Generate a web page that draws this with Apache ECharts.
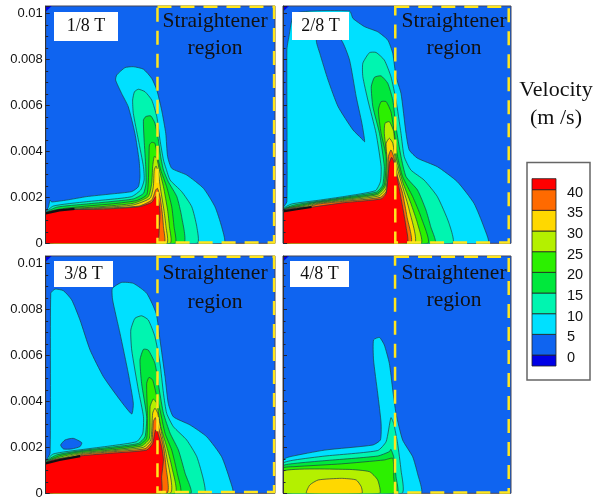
<!DOCTYPE html>
<html>
<head>
<meta charset="utf-8">
<style>html,body{margin:0;padding:0;background:#fff}#chart{width:596px;height:501px}</style>
<script src="https://cdn.jsdelivr.net/npm/echarts@6/dist/echarts.min.js"></script>
</head>
<body>
<div id="chart"></div>
<script>
// Contour outlines: [x, y] in mm; each array is the region above one velocity level.
const p1L5=[[0,1.30],[.12,1.59],[.19,1.88],[.26,1.80],[.91,1.88],[1.78,2.03],[2.80,2.14],[3.74,2.25],[4.03,2.46],[4.10,2.90],[4.06,3.62],[3.88,4.78],[3.59,5.94],[3.30,6.52],[3.04,7.10],[3.09,7.32],[3.45,7.64],[3.81,7.68],[4.25,7.57],[4.61,7.17],[4.83,6.67],[5.04,5.80],[5.22,4.78],[5.30,3.77],[5.48,3.26],[6.13,2.97],[6.86,2.39],[7.36,1.59],[7.65,.72],[7.75,0],[0,0]];
const p1L10=[[0,1.30],[.33,1.62],[1.78,1.81],[2.80,1.91],[3.74,2.03],[4.13,2.32],[4.28,2.75],[4.25,3.33],[4.03,4.49],[3.81,5.65],[3.78,6.23],[3.86,6.59],[4.03,6.70],[4.32,6.59],[4.61,6.23],[4.83,5.51],[4.97,4.49],[5.12,3.62],[5.23,3.26],[5.41,2.75],[5.91,2.25],[6.35,1.59],[6.57,.72],[6.59,0],[0,0]];
const p1L15=[[0,1.30],[.48,1.57],[1.78,1.71],[2.80,1.81],[3.81,1.93],[4.25,2.17],[4.36,2.61],[4.35,3.33],[4.28,4.49],[4.25,5.36],[4.35,5.51],[4.57,5.54],[4.75,5.22],[4.90,4.49],[5.00,3.77],[5.12,3.19],[5.33,2.68],[5.70,2.03],[5.91,1.16],[5.99,0],[0,0]];
const p1L20=[[0,1.28],[.62,1.49],[1.78,1.62],[2.94,1.72],[3.96,1.86],[4.39,2.10],[4.46,2.61],[4.49,3.77],[4.51,4.28],[4.61,4.39],[4.75,4.35],[4.86,3.77],[5.00,3.19],[5.26,2.46],[5.48,1.59],[5.58,.72],[5.62,0],[0,0]];
const p1L25=[[0,1.28],[1.0,1.50],[2.36,1.59],[3.81,1.74],[4.46,2.03],[4.61,2.61],[4.65,3.33],[4.72,3.77],[4.83,3.70],[4.94,3.19],[5.12,2.46],[5.30,1.45],[5.38,.72],[5.41,0],[0,0]];
const p1L30=[[0,1.28],[1.0,1.47],[2.36,1.55],[3.81,1.67],[4.54,1.96],[4.68,2.46],[4.72,3.19],[4.80,3.36],[4.90,3.04],[5.00,2.32],[5.14,1.45],[5.23,.72],[5.26,0],[0,0]];
const p1L35=[[0,1.28],[1.0,1.45],[2.36,1.52],[4.06,1.62],[4.61,1.88],[4.78,2.32],[4.86,2.39],[4.97,2.03],[5.07,1.30],[5.12,.72],[5.14,0],[0,0]];
const p1L40=[[0,1.30],[.48,1.45],[2.36,1.48],[4.06,1.59],[4.61,1.78],[4.78,2.03],[4.90,1.88],[4.97,1.30],[4.94,.72],[4.83,0],[0,0]];

const p2L5=[[0,1.52],[.17,1.81],[.17,8.41],[.26,8.99],[.52,10.0],[2.91,10.1],[3.06,9.78],[3.57,9.42],[4.14,9.20],[4.58,8.84],[4.80,8.26],[4.94,7.25],[5.16,6.52],[5.38,4.78],[5.52,4.06],[5.88,3.70],[6.75,3.33],[7.62,2.68],[8.35,1.74],[8.78,.72],[8.96,0],[0,0]];
const p2Hole=[[1.46,8.84],[1.9,9.2],[2.55,8.84],[2.91,7.97],[3.20,6.38],[3.45,5.22],[3.57,4.42],[3.42,4.57],[3.06,4.93],[2.41,5.94],[1.97,7.10],[1.61,8.26]];
const p2L10=[[0,1.48],[.38,1.71],[1.54,1.87],[2.70,2.04],[4.04,2.29],[4.26,2.68],[4.29,3.33],[4.07,4.78],[3.71,6.23],[3.49,7.25],[3.49,7.83],[3.78,8.29],[4.07,8.30],[4.43,7.97],[4.72,7.25],[4.94,6.23],[5.16,4.78],[5.30,3.77],[5.59,3.19],[6.17,2.75],[6.75,2.03],[7.26,.87],[7.41,0],[0,0]];
const p2L15=[[0,1.45],[.52,1.67],[1.54,1.83],[2.70,2.00],[4.09,2.23],[4.36,2.54],[4.43,3.33],[4.22,4.78],[3.93,5.94],[3.86,6.81],[4.00,7.22],[4.29,7.28],[4.58,6.96],[4.80,6.23],[4.94,5.07],[5.16,3.77],[5.38,2.90],[5.88,2.32],[6.25,1.45],[6.46,.72],[6.64,0],[0,0]];
const p2L20=[[0,1.45],[.67,1.64],[1.54,1.80],[2.70,1.96],[4.12,2.17],[4.43,2.54],[4.51,3.77],[4.29,4.78],[4.17,5.80],[4.29,6.16],[4.51,6.16],[4.72,5.72],[4.87,4.78],[5.01,3.77],[5.23,2.90],[5.67,2.03],[6.03,1.16],[6.32,0],[0,0]];
const p2L25=[[0,1.43],[.81,1.62],[1.54,1.77],[2.70,1.91],[4.14,2.12],[4.46,2.46],[4.58,3.33],[4.43,4.78],[4.46,5.22],[4.65,5.29],[4.84,4.86],[4.94,3.77],[5.23,2.68],[5.59,1.74],[5.88,.87],[6.03,0],[0,0]];
const p2L30=[[0,1.42],[.96,1.61],[1.54,1.74],[2.70,1.87],[4.19,2.06],[4.51,2.39],[4.55,3.62],[4.51,4.35],[4.65,4.57],[4.80,4.35],[4.94,3.48],[5.23,2.46],[5.52,1.45],[5.74,0],[0,0]];
const p2L35=[[0,1.41],[1.10,1.59],[1.54,1.71],[2.70,1.83],[4.26,2.00],[4.55,2.32],[4.61,3.77],[4.72,4.06],[4.84,3.77],[5.01,2.90],[5.23,2.17],[5.42,1.16],[5.57,0],[0,0]];
const p2L40=[[0,1.39],[1.25,1.57],[2.70,1.77],[4.29,1.93],[4.51,2.17],[4.65,3.48],[4.75,3.74],[4.87,3.48],[5.04,2.61],[5.23,1.59],[5.38,.72],[5.42,0],[0,0]];

const p3L5=[[0,1.38],[.19,1.74],[.22,8.70],[.41,8.88],[.77,8.81],[1.13,8.41],[1.49,7.54],[1.93,6.23],[2.51,5.07],[3.23,4.06],[3.74,3.45],[3.81,3.91],[3.59,5.22],[3.23,6.96],[2.91,8.41],[2.90,8.91],[3.30,9.17],[3.81,9.13],[4.39,8.70],[4.80,7.83],[4.97,6.67],[5.19,5.07],[5.33,3.91],[5.55,3.33],[6.28,2.97],[7.00,2.46],[7.65,1.59],[8.01,.58],[8.12,0],[0,0]];
const p3Hole=[[.65,2.10],[.84,2.32],[1.20,2.39],[1.57,2.20],[1.49,2.03],[1.13,1.93],[.77,1.93]];
const p3L10=[[0,1.36],[.33,1.71],[1.64,1.91],[2.80,2.06],[3.96,2.25],[4.22,2.61],[4.25,3.33],[4.03,4.49],[3.74,6.23],[3.70,7.10],[3.88,7.61],[4.17,7.72],[4.46,7.54],[4.75,6.81],[4.97,5.65],[5.12,4.35],[5.26,3.48],[5.55,2.90],[6.13,2.32],[6.57,1.59],[6.86,.58],[6.90,0],[0,0]];
const p3L15=[[0,1.35],[.48,1.67],[1.64,1.87],[2.80,2.00],[4.03,2.17],[4.32,2.46],[4.39,3.33],[4.17,4.78],[4.10,5.80],[4.25,6.26],[4.46,6.23],[4.75,5.65],[4.94,4.49],[5.12,3.48],[5.41,2.61],[5.77,1.88],[6.06,.87],[6.30,0],[0,0]];
const p3L20=[[0,1.33],[.62,1.64],[1.64,1.83],[2.80,1.94],[4.10,2.12],[4.39,2.39],[4.42,3.48],[4.39,4.78],[4.49,5.04],[4.65,4.93],[4.83,4.20],[4.97,3.62],[5.19,2.61],[5.48,1.88],[5.72,.87],[5.84,0],[0,0]];
const p3L25=[[0,1.32],[.77,1.61],[1.64,1.78],[2.80,1.88],[4.17,2.06],[4.51,2.39],[4.54,3.77],[4.68,4.10],[4.83,3.91],[5.00,2.90],[5.26,2.03],[5.48,1.16],[5.62,0],[0,0]];
const p3L30=[[0,1.30],[.91,1.58],[1.64,1.74],[2.80,1.84],[4.25,2.00],[4.57,2.32],[4.65,3.48],[4.75,3.70],[4.87,3.48],[5.04,2.61],[5.26,1.59],[5.41,0],[0,0]];
const p3L35=[[0,1.30],[1.06,1.55],[1.64,1.70],[2.80,1.80],[4.32,1.94],[4.61,2.25],[4.68,3.12],[4.77,3.29],[4.90,2.90],[5.12,2.03],[5.23,1.16],[5.26,0],[0,0]];
const p3L40=[[0,1.30],[.48,1.48],[1.64,1.64],[2.80,1.74],[4.39,1.88],[4.65,2.17],[4.77,2.75],[4.86,2.68],[5.04,2.03],[5.12,1.45],[5.04,.72],[5.00,0],[0,0]];

const p4L5=[[0,1.45],[.30,1.59],[1.83,1.88],[3.93,2.10],[4.26,2.32],[4.29,3.04],[4.14,4.35],[3.96,5.80],[3.96,6.67],[4.22,6.78],[4.43,6.45],[4.65,5.65],[4.80,4.49],[4.94,3.48],[5.23,2.32],[5.67,1.59],[5.88,.87],[6.03,0],[0,0]];
const p4L10=[[0,1.30],[.52,1.45],[1.83,1.62],[4.14,1.86],[4.51,2.25],[4.72,3.29],[4.84,3.04],[5.01,2.17],[5.16,1.01],[5.20,0],[0,0]];
const p4L15=[[0,1.19],[.52,1.30],[1.83,1.42],[4.14,1.62],[4.65,1.81],[4.72,1.91],[4.84,1.59],[4.94,.72],[4.99,0],[0,0]];
const p4L20=[[0,1.09],[.52,1.16],[2.55,1.28],[4.43,1.45],[4.80,1.52],[4.84,.72],[4.83,0],[0,0]];
const p4L25=[[0,.97],[2.84,1.04],[3.78,.94],[4.14,.58],[4.22,0],[0,0]];
const p4L30=[[1.03,0],[1.17,.36],[1.54,.58],[2.55,.65],[3.20,.58],[3.42,.29],[3.45,0]];

const cornerLow=[[0,10.32],[.26,10.32],[0,10.07]];
const p1Dense=[[0,1.30],[.6,1.43],[1.25,1.50]];
const p2Dense=[[0,1.39],[.6,1.48],[1.25,1.58]];
const p3Dense=[[0,1.30],[.6,1.45],[1.50,1.62]];

const regionBoxes=[[4.86,.03,9.93,10.29],[4.91,.03,9.87,10.29],[4.86,.06,9.93,10.29],[4.90,.03,9.87,10.29]];

const levelValues=[0,5,10,15,20,25,30,35,40];
const levelColors=['#0000e6','#00e0ff','#00f5b0','#00e83c','#2cf000','#b4f000','#ffd800','#ff6a00','#ff0000'];
const backgroundColor='#0f64f0';
const colorbarEdges=[-2.66,0,5,10,15,20,25,30,35,40,42.66];
const colorbarColors=['#0000e6','#0f64f0','#00e0ff','#00f5b0','#00e83c','#2cf000','#b4f000','#ffd800','#ff6a00','#ff0000'];
const yTickLabels=['0','0.002','0.004','0.006','0.008','0.01'];
const timeLabels=['1/8 T','2/8 T','3/8 T','4/8 T'];

const panelBands=[
 [[0,cornerLow],[1,p1L5],[2,p1L10],[3,p1L15],[4,p1L20],[5,p1L25],[6,p1L30],[7,p1L35],[8,p1L40]],
 [[0,cornerLow],[1,p2L5],[-1,p2Hole],[2,p2L10],[3,p2L15],[4,p2L20],[5,p2L25],[6,p2L30],[7,p2L35],[8,p2L40]],
 [[0,cornerLow],[1,p3L5],[-1,p3Hole],[2,p3L10],[3,p3L15],[4,p3L20],[5,p3L25],[6,p3L30],[7,p3L35],[8,p3L40]],
 [[0,cornerLow],[1,p4L5],[2,p4L10],[3,p4L15],[4,p4L20],[5,p4L25],[6,p4L30]]
];
const panelDense=[p1Dense,p2Dense,p3Dense,[]];

const gridBoxes=[
 {left:45.7,top:6,width:229.3,height:237.3},
 {left:283,top:6,width:228,height:237.3},
 {left:45.7,top:256,width:229.3,height:237.3},
 {left:283,top:256,width:228,height:237.3},
 {left:532,top:169,width:24,height:206.7}
];
const font='"Liberation Serif",serif', sans='"Liberation Sans",Arial,sans-serif';

const xAxes=[],yAxes=[],series=[];
for(let i=0;i<4;i++){
 xAxes.push({gridIndex:i,type:'value',min:0,max:9.97,show:false});
 yAxes.push({gridIndex:i,type:'value',min:0,max:10.32,interval:2,z:6,
  axisLine:{show:true,lineStyle:{color:'#333',width:1}},
  axisTick:{show:true,inside:true,length:4,lineStyle:{color:'#223',width:1}},
  minorTick:{show:true,splitNumber:4,length:2.5,lineStyle:{color:'#223',width:1}},
  splitLine:{show:false},
  axisLabel:{show:i%2===0,showMaxLabel:false,margin:3,color:'#111',fontFamily:sans,fontSize:13,
   formatter:v=>{const k=v/2;return Number.isInteger(k)&&yTickLabels[k]!==undefined?yTickLabels[k]:'';}}
 });
 const bands=panelBands[i];
 series.push({type:'custom',xAxisIndex:i,yAxisIndex:i,coordinateSystem:'cartesian2d',silent:true,animation:false,clip:true,z:2,
  data:bands.map((b,k)=>[k]),
  renderItem:(params,api)=>{
   const b=bands[params.dataIndex];
   const pts=b[1].map(p=>api.coord(p));
   return {type:'polygon',shape:{points:pts,smooth:b[0]===0?0:0.18},
    style:{fill:b[0]<0?backgroundColor:levelColors[b[0]],stroke:b[0]===0?null:'#1d3d44',lineWidth:.7}};
  }});
 if(panelDense[i].length){
  series.push({type:'line',xAxisIndex:i,yAxisIndex:i,data:panelDense[i],showSymbol:false,silent:true,animation:false,z:3,
   lineStyle:{color:'#111',width:2.2}});
 }
 const box=regionBoxes[i];
 series.push({type:'custom',xAxisIndex:i,yAxisIndex:i,coordinateSystem:'cartesian2d',silent:true,animation:false,clip:false,z:4,
  data:[box],
  renderItem:(params,api)=>{
   const a=api.coord([api.value(0),api.value(1)]),c=api.coord([api.value(2),api.value(3)]);
   return {type:'rect',shape:{x:a[0],y:c[1],width:c[0]-a[0],height:a[1]-c[1]},
    style:{fill:null,stroke:'#ffe61e',lineWidth:2.5,lineDash:[14,9]}};
  }});
}
// colour bar
xAxes.push({gridIndex:4,type:'value',min:0,max:1,show:false});
yAxes.push({gridIndex:4,type:'value',min:-5,max:45,interval:5,
 axisLine:{show:false},axisTick:{show:false},splitLine:{show:false},position:'right',
 axisLabel:{margin:11,color:'#111',fontFamily:sans,fontSize:14.5,verticalAlign:'top',lineHeight:6,
  showMinLabel:false,showMaxLabel:false,formatter:v=>levelValues.includes(v)?String(v):''}});
series.push({type:'custom',xAxisIndex:4,yAxisIndex:4,coordinateSystem:'cartesian2d',silent:true,animation:false,z:2,
 data:colorbarColors.map((c,k)=>[colorbarEdges[k],colorbarEdges[k+1]]),
 renderItem:(params,api)=>{
  const a=api.coord([0,api.value(0)]),b=api.coord([1,api.value(1)]);
  return {type:'rect',shape:{x:a[0],y:b[1],width:b[0]-a[0],height:a[1]-b[1]},
   style:{fill:colorbarColors[params.dataIndex],stroke:'#222',lineWidth:.8}};
 }});

const stamp=(l,t,w,h,txt)=>[
 {type:'rect',z:10,shape:{x:l,y:t,width:w,height:h},style:{fill:'#fff'}},
 {type:'text',z:11,x:l+w/2,y:t+h/2,style:{text:txt,font:'18px '+font,fill:'#111',textAlign:'center',textVerticalAlign:'middle'}}
];
const caption=(x,y,txt,size)=>({type:'text',z:11,x:x,y:y,style:{text:txt,font:size+'px '+font,fill:'#111',textAlign:'center',textVerticalAlign:'middle'}});

const chart=echarts.init(document.getElementById('chart'),null,{renderer:'canvas'});
chart.setOption({
 animation:false,
 backgroundColor:'#fff',
 grid:gridBoxes.map((g,i)=>Object.assign({containLabel:false,show:i<4,backgroundColor:backgroundColor,borderColor:'#445',borderWidth:i<4?1:0},g)),
 xAxis:xAxes,yAxis:yAxes,series:series,
 graphic:{elements:[
  ...stamp(54,12,64,29,timeLabels[0]),
  ...stamp(292,12,57,28,timeLabels[1]),
  ...stamp(54,261,59,26,timeLabels[2]),
  ...stamp(290,261,59,26,timeLabels[3]),
  caption(215,21,'Straightener',21.5),caption(215,48,'region',21.5),
  caption(454,21,'Straightener',21.5),caption(454,48,'region',21.5),
  caption(215,273,'Straightener',21.5),caption(215,302,'region',21.5),
  caption(454,273,'Straightener',21.5),caption(454,300,'region',21.5),
  caption(556,90,'Velocity',22),caption(556,118,'(m /s)',22),
  {type:'rect',z:1,shape:{x:527,y:162.5,width:63,height:217.5},style:{fill:null,stroke:'#666',lineWidth:1.5}}
 ]}
});
</script>
</body>
</html>
